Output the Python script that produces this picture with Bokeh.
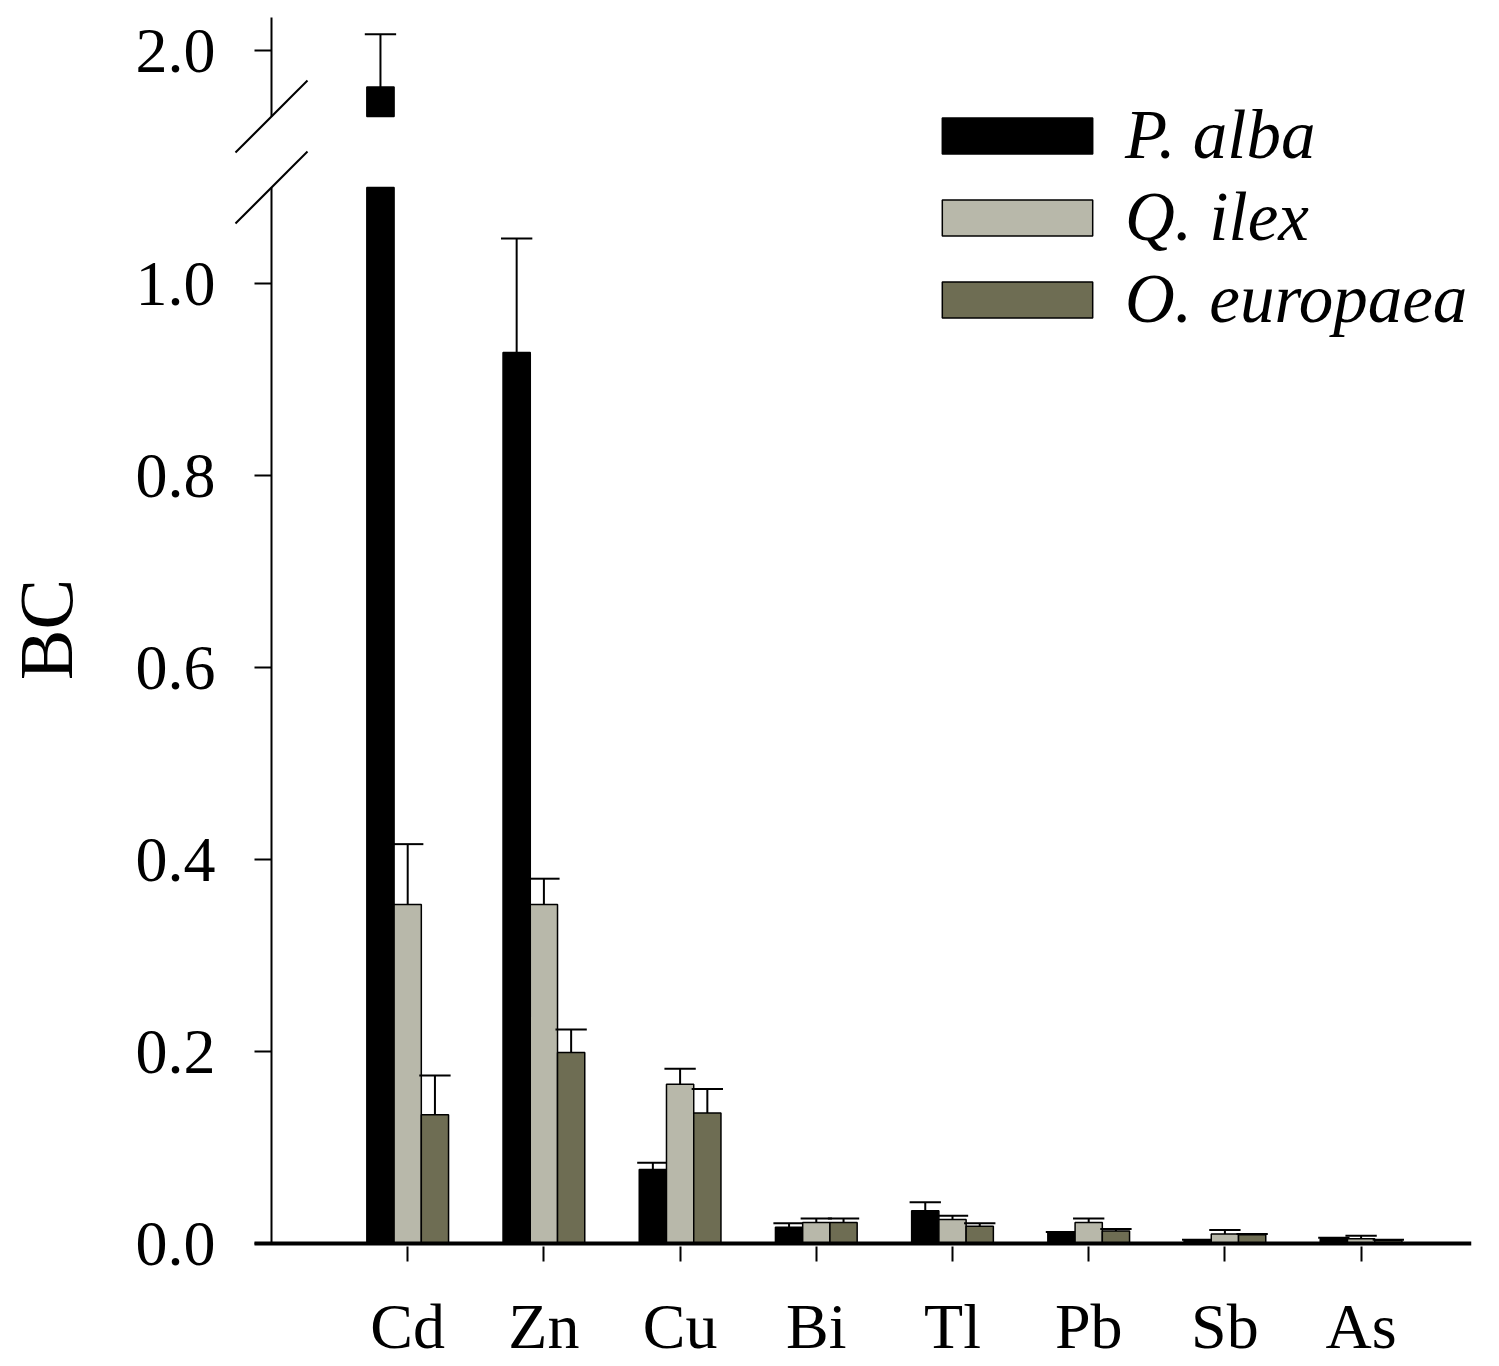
import numpy as np
from bokeh.plotting import figure
from bokeh.models import Range1d, FixedTicker, Legend, LegendItem
from bokeh.embed import file_html
from bokeh.resources import INLINE

# ---------------- data ----------------
elements = ["Cd", "Zn", "Cu", "Bi", "Tl", "Pb", "Sb", "As"]
species = ["P. alba", "Q. ilex", "O. europaea"]
p_alba = [1.962, 0.928, 0.077, 0.017, 0.034, 0.011, 0.003, 0.005]
p_alba_err = [0.055, 0.119, 0.007, 0.004, 0.009, 0.001, 0.001, 0.001]
q_ilex = [0.353, 0.353, 0.166, 0.022, 0.025, 0.022, 0.010, 0.005]
q_ilex_err = [0.063, 0.027, 0.016, 0.004, 0.004, 0.004, 0.004, 0.003]
o_europaea = [0.134, 0.199, 0.136, 0.022, 0.018, 0.013, 0.009, 0.003]
o_europaea_err = [0.041, 0.024, 0.025, 0.004, 0.003, 0.002, 0.001, 0.001]
y_tick_values = [0.0, 0.2, 0.4, 0.6, 0.8, 1.0, 2.0]
y_tick_labels = ["0.0", "0.2", "0.4", "0.6", "0.8", "1.0", "2.0"]

colors = ["#000000", "#b8b8aa", "#6e6d53"]

# ---------------- layout constants ----------------
PX_X = 136.2          # pixels per category unit
PX_Y = 960.0          # pixels per BC unit
x_start = -40 / PX_X
x_end = 1200 / PX_X
y_start = -3 / PX_Y
y_end = 1231 / PX_Y
TOP_OFFSET = 2.0 - 1193 / PX_Y     # upper segment shift
LOW_MAX = 1.1                       # top of lower axis segment
HIGH_MIN = 1127 / PX_Y + TOP_OFFSET # bottom of upper axis segment
HIGH_TOP = 1226 / PX_Y + TOP_OFFSET # top of upper axis segment
BAR_W = 0.2
CAP_HALF = 0.115
TICK_LEN = 17 / PX_X
SL_DX = 36 / PX_X
SL_DY = 36 / PX_Y

p = figure(frame_width=1240, frame_height=1234,
           min_border_left=230, min_border_right=13,
           min_border_top=12, min_border_bottom=104,
           x_range=Range1d(x_start, x_end), y_range=Range1d(y_start, y_end),
           output_backend="svg", toolbar_location=None)
p.extra_y_ranges = {"top": Range1d(y_start + TOP_OFFSET, y_end + TOP_OFFSET)}
p.background_fill_color = "white"
p.border_fill_color = "white"
p.outline_line_color = None
p.grid.grid_line_color = None

series = [(p_alba, p_alba_err), (q_ilex, q_ilex_err), (o_europaea, o_europaea_err)]
offsets = [-BAR_W, 0.0, BAR_W]
x_idx = np.arange(1, len(elements) + 1)
renderers = []
for (vals, errs), off, col in zip(series, offsets, colors):
    vals = np.array(vals)
    errs = np.array(errs)
    xs = x_idx + off
    low_top = np.minimum(vals, LOW_MAX)
    r = p.vbar(x=xs, width=BAR_W, bottom=0, top=low_top, fill_color=col,
               line_color="black", line_width=1.5)
    renderers.append(r)
    hi = vals > LOW_MAX
    if hi.any():
        p.vbar(x=xs[hi], width=BAR_W, bottom=HIGH_MIN, top=vals[hi], fill_color=col,
               line_color="black", line_width=1.5, y_range_name="top")
    lo = ~hi
    # error bars (upper only)
    p.segment(x0=xs[lo], x1=xs[lo], y0=vals[lo], y1=vals[lo] + errs[lo],
              line_color="black", line_width=2)
    p.segment(x0=xs[lo] - CAP_HALF, x1=xs[lo] + CAP_HALF, y0=vals[lo] + errs[lo],
              y1=vals[lo] + errs[lo], line_color="black", line_width=2)
    if hi.any():
        p.segment(x0=xs[hi], x1=xs[hi], y0=vals[hi], y1=vals[hi] + errs[hi],
                  line_color="black", line_width=2, y_range_name="top")
        p.segment(x0=xs[hi] - CAP_HALF, x1=xs[hi] + CAP_HALF, y0=vals[hi] + errs[hi],
                  y1=vals[hi] + errs[hi], line_color="black", line_width=2,
                  y_range_name="top")

# ---------------- broken y axis ----------------
low_ticks = [v for v in y_tick_values if v <= LOW_MAX]
high_ticks = [v for v in y_tick_values if v > LOW_MAX]
p.segment(x0=[0], x1=[0], y0=[0], y1=[LOW_MAX], line_color="black", line_width=2)
p.segment(x0=[0], x1=[0], y0=[HIGH_MIN], y1=[HIGH_TOP], line_color="black",
          line_width=2, y_range_name="top")
p.segment(x0=[-TICK_LEN] * len(low_ticks), x1=[0] * len(low_ticks), y0=low_ticks,
          y1=low_ticks, line_color="black", line_width=2)
p.segment(x0=[-TICK_LEN] * len(high_ticks), x1=[0] * len(high_ticks), y0=high_ticks,
          y1=high_ticks, line_color="black", line_width=2, y_range_name="top")
# break marks
p.segment(x0=[-SL_DX], x1=[SL_DX], y0=[LOW_MAX - SL_DY], y1=[LOW_MAX + SL_DY],
          line_color="black", line_width=2)
p.segment(x0=[-SL_DX], x1=[SL_DX], y0=[HIGH_MIN - SL_DY], y1=[HIGH_MIN + SL_DY],
          line_color="black", line_width=2, y_range_name="top")
# x axis line
p.segment(x0=[-TICK_LEN], x1=[x_end], y0=[0], y1=[0], line_color="black", line_width=4)

# tick label positions on the primary range
tick_pos = [v if v <= LOW_MAX else v - TOP_OFFSET for v in y_tick_values]
p.yaxis.ticker = FixedTicker(ticks=tick_pos)
p.yaxis.major_label_overrides = {pos: lab for pos, lab in zip(tick_pos, y_tick_labels)}
p.yaxis.axis_line_color = None
p.yaxis.major_tick_line_color = None
p.yaxis.minor_tick_line_color = None
p.yaxis.major_tick_out = 0
p.yaxis.major_tick_in = 0
p.yaxis.major_label_standoff = 16
p.yaxis.major_label_text_font = "Liberation Serif"
p.yaxis.major_label_text_font_size = "64px"
p.yaxis.major_label_text_color = "black"
p.yaxis.axis_label = "BC"
p.yaxis.axis_label_text_font = "Liberation Serif"
p.yaxis.axis_label_text_font_style = "normal"
p.yaxis.axis_label_text_font_size = "76px"
p.yaxis.axis_label_text_color = "black"
p.yaxis.axis_label_standoff = 45

p.xaxis.ticker = FixedTicker(ticks=list(x_idx))
p.xaxis.major_label_overrides = {int(i): e for i, e in zip(x_idx, elements)}
p.xaxis.axis_line_color = None
p.xaxis.minor_tick_line_color = None
p.xaxis.major_tick_line_color = "black"
p.xaxis.major_tick_line_width = 2
p.xaxis.major_tick_out = 15
p.xaxis.major_tick_in = 0
p.xaxis.major_label_standoff = 29
p.xaxis.major_label_text_font = "Liberation Serif"
p.xaxis.major_label_text_font_size = "64px"
p.xaxis.major_label_text_color = "black"

legend = Legend(items=[LegendItem(label=s, renderers=[r]) for s, r in zip(species, renderers)],
                location=(692, 907), orientation="vertical",
                glyph_width=188, glyph_height=45, label_height=45, spacing=3,
                padding=0, margin=0, label_standoff=14,
                label_text_font="Liberation Serif", label_text_font_style="italic",
                label_text_font_size="69px", label_text_color="black",
                border_line_color=None, background_fill_alpha=0)
p.add_layout(legend)

open("out.html", "w").write(file_html(p, INLINE))
